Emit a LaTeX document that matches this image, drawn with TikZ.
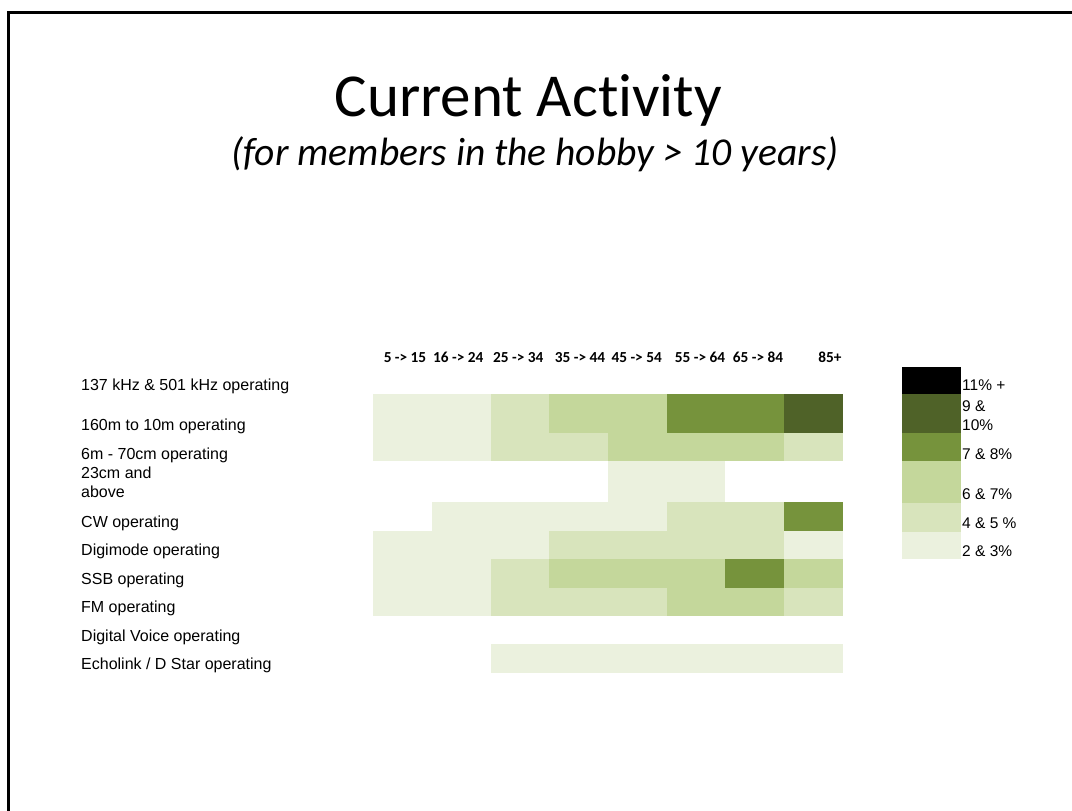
\documentclass[tikz,border=0pt]{standalone}
\usepackage{fontspec}
\setmainfont{Liberation Sans}
\newfontfamily\calibri[Ligatures={TeX,NoCommon}]{Carlito}
\definecolor{lvA}{HTML}{EBF1DE}
\definecolor{lvB}{HTML}{D8E4BC}
\definecolor{lvC}{HTML}{C4D79B}
\definecolor{lvD}{HTML}{76933C}
\definecolor{lvE}{HTML}{4F6228}
\begin{document}
\begin{tikzpicture}
      [x=1pt,y=-1pt,every node/.style={inner sep=0pt, anchor=base west, font=\fontsize{16}{19.4}\selectfont},
       hdr/.style={anchor=base, font=\calibri\bfseries\fontsize{15.3}{18}\selectfont},
       key/.style={font=\fontsize{15.5}{19}\selectfont}]
    \useasboundingbox (0,0) rectangle (1072,811);
    \fill[white] (0,0) rectangle (1072,811);
    \draw[line width=2.8pt] (8.5,811) -- (8.5,12.5) -- (1072,12.5);

    \node[anchor=base, font=\calibri\fontsize{61}{72}\selectfont] (t1) at (528.3,116) {Current Activity};
    \node[anchor=base, font=\calibri\itshape\fontsize{39.5}{46}\selectfont] (t2) at (535,165) {(for members in the hobby > 10 years)};

    \foreach \x/\txt [count=\i] in {405/5 -> 15, 458.3/16 -> 24, 518.3/25 -> 34, 580/35 -> 44, 636.7/45 -> 54, 700/55 -> 64, 758/65 -> 84, 830/85+}
      \node[hdr] (h\i) at (\x,362) {\txt};

    \foreach \y/\txt [count=\i] in {390.7/137 kHz \& 501 kHz operating, 430/160m to 10m operating, 459.3/6m - 70cm operating}
      \node (r\i) at (81,\y) {\txt};
    \node[align=left] (r4) at (81,497.7) {23cm and\\above};
    \foreach \y/\txt [count=\i from 5] in {527.3/CW operating, 555.7/Digimode operating, 584/SSB operating, 612.3/FM operating, 641/Digital Voice operating, 669/{Echolink / D Star operating}}
      \node (r\i) at (81,\y) {\txt};

    \foreach \xa/\xb/\ya/\yb/\c in {373.3/490.7/394.3/432.7/lvA, 490.7/549.3/394.3/432.7/lvB, 549.3/666.7/394.3/432.7/lvC, 666.7/784/394.3/432.7/lvD, 784/842.7/394.3/432.7/lvE,
        373.3/490.7/432.7/460.7/lvA, 490.7/608/432.7/460.7/lvB, 608/784/432.7/460.7/lvC, 784/842.7/432.7/460.7/lvB,
        608/725.3/460.7/501.7/lvA,
        432/666.7/501.7/531/lvA, 666.7/784/501.7/531/lvB, 784/842.7/501.7/531/lvD,
        373.3/549.3/531/559.3/lvA, 549.3/784/531/559.3/lvB, 784/842.7/531/559.3/lvA,
        373.3/490.7/559.3/587.7/lvA, 490.7/549.3/559.3/587.7/lvB, 549.3/725.3/559.3/587.7/lvC, 725.3/784/559.3/587.7/lvD, 784/842.7/559.3/587.7/lvC,
        373.3/490.7/587.7/616/lvA, 490.7/666.7/587.7/616/lvB, 666.7/784/587.7/616/lvC, 784/842.7/587.7/616/lvB,
        490.7/842.7/644/673.3/lvA}
      \fill[\c] (\xa,\ya) rectangle (\xb,\yb);

    \foreach \ya/\yb/\c in {366.7/394.3/black, 394.3/433.3/lvE, 433.3/461/lvD, 461/502.7/lvC, 502.7/531.7/lvB, 531.7/559/lvA}
      \fill[\c] (902.3,\ya) rectangle (961,\yb);

    \foreach \y/\txt [count=\i] in {390.7/11\% +, 459/7 \& 8\%, 499/6 \& 7\%, 528.3/4 \& 5 \%, 556.7/2 \& 3\%}
      \node[key] (k\i) at (962,\y) {\txt};
    \node[key, align=left] (k6) at (962,430) {9 \&\\10\%};
  \end{tikzpicture}
\end{document}
